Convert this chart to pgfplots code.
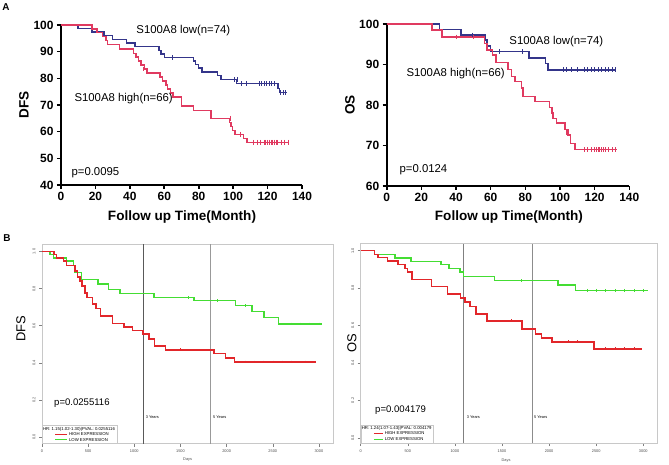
\documentclass[border=0pt]{standalone}
\usepackage{fontspec}
\setmainfont{Liberation Sans}
\usepackage{pgfplots}
\pgfplotsset{compat=1.18}

\definecolor{lowblue}{HTML}{34358A}
\definecolor{highred}{HTML}{E03A60}
\definecolor{kmred}{HTML}{E2262A}
\definecolor{kmgreen}{HTML}{44DD33}
\definecolor{framegrey}{HTML}{C8C8C8}

\pgfplotsset{
  prism/.style={
    scale only axis, clip=false,
    axis x line*=bottom, axis y line*=left,
    axis line style={line width=1.6bp, black},
    every tick/.style={line width=1.6bp, black},
    tick align=outside, major tick length=4bp,
    /pgf/number format/assume math mode=true,
    tick label style={font=\bfseries\fontsize{12}{12}\selectfont},
    label style={font=\bfseries\fontsize{13.6}{14}\selectfont},
    xmin=0, xmax=140, xtick={0,20,...,140},
  },
  kmstep/.style={const plot, line width=1.5bp},
  cens/.style={only marks, mark=|, mark size=2.4bp, mark options={line width=0.9bp}},
  rplot/.style={
    scale only axis, clip=false,
    axis line style={framegrey, line width=0.8bp},
    tick pos=left, tick align=outside, major tick length=3bp,
    every tick/.style={gray, line width=0.5bp},
    /pgf/number format/assume math mode=true,
    /pgf/number format/1000 sep={},
    tick label style={font=\fontsize{3.9}{4}\selectfont, text=black!70},
    xtick={0,500,...,3000}, ytick={0,0.2,...,1.0},
    yticklabel style={rotate=90, anchor=south, /pgf/number format/fixed,
      /pgf/number format/fixed zerofill, /pgf/number format/precision=1},
    xmin=0,
  },
  rstep/.style={const plot, line width=1.5bp},
  rcens/.style={only marks, mark=|, mark size=1.4bp, mark options={line width=0.4bp}},
}

\begin{document}
\begin{tikzpicture}
\fill[white] (0,0) rectangle (669bp,465bp);
\useasboundingbox (0,0) rectangle (669bp,465bp);

\node[font=\bfseries\fontsize{10}{10}\selectfont] at (6bp,458bp) {A};
\node[font=\bfseries\fontsize{10}{10}\selectfont] at (7bp,227bp) {B};

% ---------- A: DFS ----------
\begin{axis}[prism, at={(61bp,280bp)}, anchor=south west,
  width=241bp, height=160bp,
  ymin=40, ymax=100, ytick={40,50,...,100},
  xlabel={Follow up Time(Month)}, ylabel={DFS},
  xlabel style={at={(axis description cs:0.502,-0.2)}, anchor=center},
  ylabel style={at={(axis description cs:-0.154,0.5)}, anchor=center, rotate=0},
]
\addplot[kmstep, lowblue] coordinates {
 (0,100)(10,98.6)(18,97.3)(25,96)(30,94.6)(38,93.2)(43,91.9)(57,90.5)(58,89.2)
 (60,87.8)(77,86.5)(78,85.1)(80,83.8)(82,82.4)(91,81)(93,79.5)(102,78.1)
 (126,76.2)(127,74.6)(131,74.6)};
\addplot[kmstep, highred] coordinates {
 (0,100)(18,98.5)(21,97.1)(24,95.6)(26,94.1)(27,92.6)(34,91)(42,89.4)(43.5,88)
 (45,86.5)(46.5,85)(48.5,83.5)(50,82)(57.5,80.5)(59,79)(61,77.5)(62,76)(63.5,74.5)
 (65,73)(70,69.7)(77,68)(87,65)(98,63.5)(98.8,62)(99.5,60.5)(101,59)(106,57.5)
 (108,56)(132.5,56)};
\addplot[cens, lowblue] coordinates {
 (65,87.8)(101,79.5)(102.5,79.5)(105,78.1)(108,78.1)(115,78.1)(116.5,78.1)(118,78.1)
 (119.5,78.1)(121,78.1)(122.5,78.1)(124,78.1)(127.5,74.6)(129,74.6)(130.5,74.6)};
\addplot[cens, highred] coordinates {
 (48,83.5)(98.5,65)(104,59)(112,56)(114,56)(116,56)(118,56)(119,56)(120,56)(121,56)
 (122,56)(123,56)(124,56)(125,56)(126,56)(128,56)(130,56)(132,56)};
\node[anchor=west, font=\fontsize{11.4}{12}\selectfont] at (axis cs:41.8,98.1) {S100A8 low(n=74)};
\node[anchor=west, font=\fontsize{11.4}{12}\selectfont] at (axis cs:5.8,72.25) {S100A8 high(n=66)};
\node[anchor=west, font=\fontsize{11.4}{12}\selectfont] at (axis cs:4.1,44.5) {p=0.0095};
\end{axis}

% ---------- A: OS ----------
\begin{axis}[prism, at={(386.7bp,279bp)}, anchor=south west,
  width=242.6bp, height=162bp,
  ymin=60, ymax=100, ytick={60,70,...,100},
  xlabel={Follow up Time(Month)}, ylabel={OS},
  xlabel style={at={(axis description cs:0.504,-0.19)}, anchor=center},
  ylabel style={at={(axis description cs:-0.151,0.5)}, anchor=center, rotate=0},
]
\addplot[kmstep, lowblue] coordinates {
 (0,100)(30.4,98.6)(43,97.3)(57,96)(58,94.6)(60,93.2)(82,91.6)(91.5,90.2)(93,88.7)(132,88.7)};
\addplot[kmstep, highred] coordinates {
 (0,100)(26,98.5)(32,96.8)(56.5,95.2)(58,93.6)(61,92.3)(63,90.5)(70,88.8)(72,87)
 (74,85.8)(77.7,84.2)(78.7,82.1)(85.6,80.9)(94,79.4)(95.5,78)(96,76.7)(98,75.5)
 (103,74)(104.5,72.6)(106,70.5)(108.6,69)(132.7,69)};
\addplot[cens, lowblue] coordinates {
 (49.6,97.3)(65,93.2)(78.5,93.2)(102,88.7)(104,88.7)(106.5,88.7)(110,88.7)(114,88.7)
 (116,88.7)(118,88.7)(120,88.7)(122,88.7)(124,88.7)(126,88.7)(128,88.7)(130,88.7)(132,88.7)};
\addplot[cens, highred] coordinates {
 (40,96.8)(50,96.8)(104,73.3)(114,69)(116,69)(118,69)(120,69)(121,69)(122,69)(123,69)
 (124,69)(125,69)(126,69)(128,69)(130,69)(132,69)};
\node[anchor=west, font=\fontsize{11.4}{12}\selectfont] at (axis cs:68.8,95.6) {S100A8 low(n=74)};
\node[anchor=west, font=\fontsize{11.4}{12}\selectfont] at (axis cs:9.4,87.7) {S100A8 high(n=66)};
\node[anchor=west, font=\fontsize{11.4}{12}\selectfont] at (axis cs:5.4,64) {p=0.0124};
\end{axis}

% ---------- B: DFS ----------
\begin{axis}[rplot, at={(42bp,21.3bp)}, anchor=south west,
  width=291.3bp, height=199.4bp,
  xmax=3156, ymin=-0.036, ymax=1.039,
  xlabel={Days}, ylabel={DFS},
  xlabel style={at={(axis description cs:0.5,-0.082)}, anchor=center, font=\fontsize{3.9}{4}\selectfont, text=black!70},
  ylabel style={at={(axis description cs:-0.072,0.576)}, anchor=center, rotate=0, font=\fontsize{13}{13}\selectfont},
]
\draw[black!65, line width=0.8bp] ({axis cs:1095,0}|-{rel axis cs:0,0}) -- ({axis cs:1095,0}|-{rel axis cs:0,1});
\draw[black!40, line width=1.3bp] ({axis cs:1825,0}|-{rel axis cs:0,0}) -- ({axis cs:1825,0}|-{rel axis cs:0,1});
\addplot[rstep, kmgreen] coordinates {
 (0,1)(87,0.984)(123,0.966)(267,0.948)(339,0.924)(360,0.888)(429,0.849)(609,0.825)
 (718,0.795)(844,0.773)(1212,0.753)(1648,0.735)(2099,0.708)(2276,0.677)(2405,0.645)
 (2564,0.609)(3036,0.609)};
\addplot[rstep, kmred] coordinates {
 (0,1)(130,0.984)(159,0.966)(231,0.948)(267,0.924)(357,0.894)(382,0.863)(411,0.840)
 (436,0.813)(465,0.777)(490,0.753)(548,0.717)(584,0.692)(635,0.652)(765,0.611)
 (887,0.593)(981,0.573)(1096,0.555)(1161,0.528)(1219,0.490)(1338,0.470)(1864,0.449)
 (1987,0.427)(2084,0.404)(2964,0.404)};
\addplot[rcens, kmgreen] coordinates {
 (1580,0.753)(1900,0.735)(2200,0.708)(2700,0.609)(2800,0.609)(2900,0.609)(3000,0.609)};
\addplot[rcens, kmred] coordinates {
 (1500,0.470)(2200,0.404)(2300,0.404)(2400,0.404)(2500,0.404)(2600,0.404)(2700,0.404)(2850,0.404)};
\node[anchor=west, font=\fontsize{9.6}{10}\selectfont] at (axis cs:94,0.182) {p=0.0255116};
\node[anchor=west, font=\fontsize{3.9}{4}\selectfont, inner sep=0pt] at (axis cs:1123,0.109) {3 Years};
\node[anchor=west, font=\fontsize{3.9}{4}\selectfont, inner sep=0pt] at (axis cs:1853,0.109) {5 Years};
\node[anchor=south west, draw=framegrey, line width=0.5bp, fill=white, inner sep=0.8bp,
  font=\fontsize{4.3}{5.4}\selectfont] at (rel axis cs:0,0) {%
  \begin{tabular}{@{\hspace{12bp}}l@{\hspace{2bp}}l@{\hspace{2bp}}}
  \multicolumn{2}{@{}l@{\hspace{1bp}}}{HR: 1.15(1.02-1.30)|PVAL: 0.0255116}\\
  \textcolor{kmred}{\rule[0.35ex]{12bp}{0.8bp}} & HIGH EXPRESSION\\
  \textcolor{kmgreen}{\rule[0.35ex]{12bp}{0.8bp}} & LOW EXPRESSION
  \end{tabular}};
\end{axis}

% ---------- B: OS ----------
\begin{axis}[rplot, at={(360.7bp,22bp)}, anchor=south west,
  width=296.6bp, height=199.3bp,
  xmax=3149, ymin=-0.028, ymax=1.037,
  xlabel={Days}, ylabel={OS},
  xlabel style={at={(axis description cs:0.49,-0.088)}, anchor=center, font=\fontsize{3.9}{4}\selectfont, text=black!70},
  ylabel style={at={(axis description cs:-0.030,0.5)}, anchor=center, rotate=0, font=\fontsize{13}{13}\selectfont},
]
\draw[black!50, line width=1.2bp] ({axis cs:1095,0}|-{rel axis cs:0,0}) -- ({axis cs:1095,0}|-{rel axis cs:0,1});
\draw[black!45, line width=1.3bp] ({axis cs:1825,0}|-{rel axis cs:0,0}) -- ({axis cs:1825,0}|-{rel axis cs:0,1});
\addplot[rstep, kmgreen] coordinates {
 (0,1)(149,0.98)(363,0.961)(533,0.943)(853,0.925)(938,0.905)(1056,0.885)(1091,0.863)
 (1418,0.84)(2097,0.816)(2282,0.788)(3046,0.788)};
\addplot[rstep, kmred] coordinates {
 (0,1)(149,0.98)(185,0.963)(284,0.945)(398,0.925)(469,0.905)(498,0.885)(547,0.845)
 (754,0.809)(921,0.768)(1059,0.746)(1109,0.725)(1162,0.702)(1223,0.662)(1340,0.625)
 (1713,0.580)(1856,0.554)(1920,0.532)(2033,0.513)(2478,0.475)(2986,0.475)};
\addplot[rcens, kmgreen] coordinates {
 (1700,0.84)(2400,0.788)(2500,0.788)(2600,0.788)(2700,0.788)(2800,0.788)(2900,0.788)(3000,0.788)};
\addplot[rcens, kmred] coordinates {
 (1600,0.625)(2200,0.513)(2300,0.513)(2600,0.475)(2700,0.475)(2800,0.475)(2900,0.475)};
\node[anchor=west, font=\fontsize{9.6}{10}\selectfont] at (axis cs:117,0.148) {p=0.004179};
\node[anchor=west, font=\fontsize{3.9}{4}\selectfont, inner sep=0pt] at (axis cs:1125,0.109) {3 Years};
\node[anchor=west, font=\fontsize{3.9}{4}\selectfont, inner sep=0pt] at (axis cs:1840,0.109) {5 Years};
\node[anchor=south west, draw=framegrey, line width=0.5bp, fill=white, inner sep=0.8bp,
  font=\fontsize{4.3}{5.4}\selectfont] at (rel axis cs:0,0) {%
  \begin{tabular}{@{\hspace{12bp}}l@{\hspace{2bp}}l@{\hspace{2bp}}}
  \multicolumn{2}{@{}l@{\hspace{1bp}}}{HR: 1.24(1.07-1.43)|PVAL: 0.004179}\\
  \textcolor{kmred}{\rule[0.35ex]{9bp}{0.8bp}} & HIGH EXPRESSION\\
  \textcolor{kmgreen}{\rule[0.35ex]{9bp}{0.8bp}} & LOW EXPRESSION
  \end{tabular}};
\end{axis}
\end{tikzpicture}
\end{document}
